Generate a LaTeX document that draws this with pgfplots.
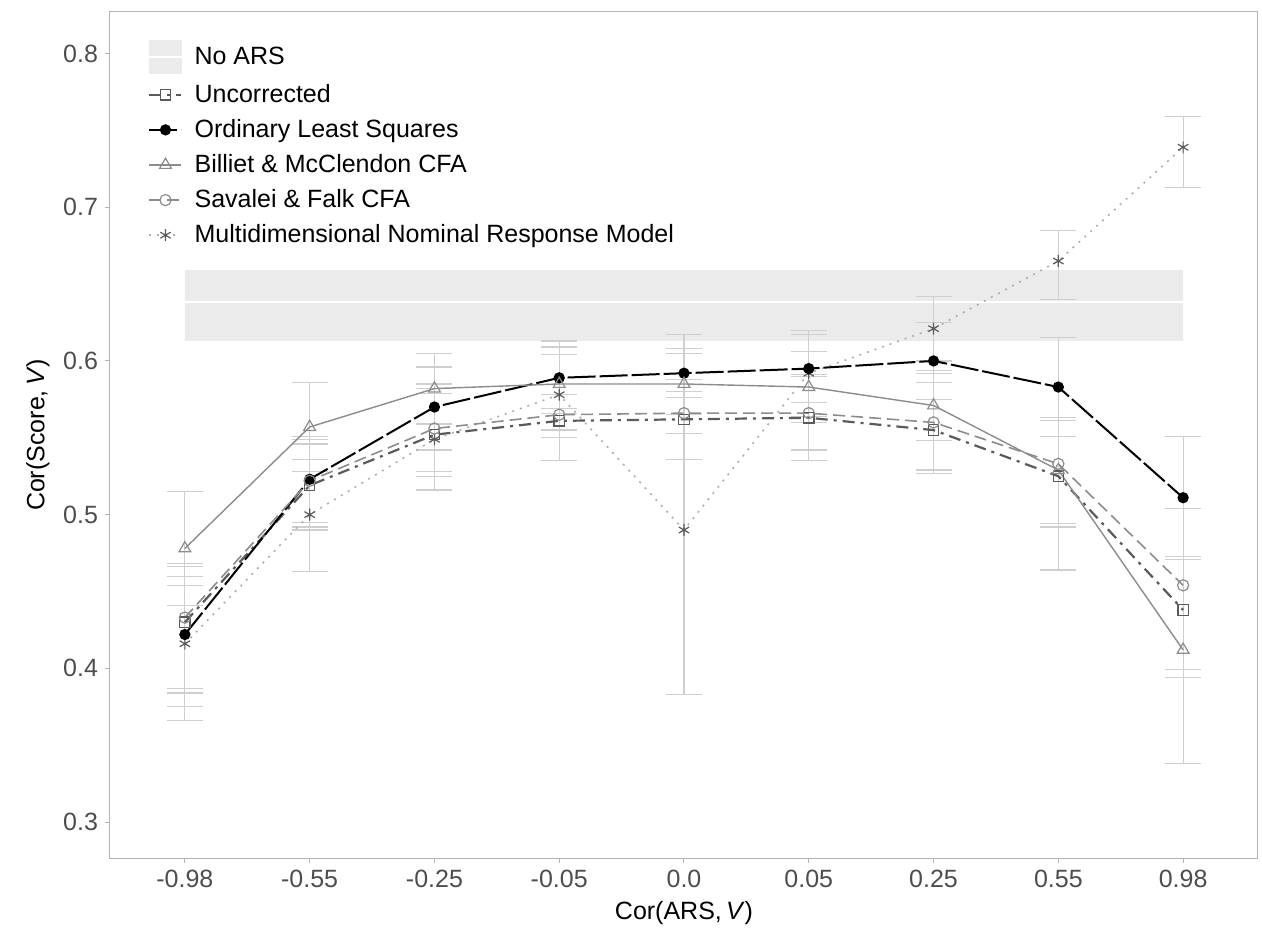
\documentclass[border=0pt]{standalone}
\usepackage{fontspec}
\setmainfont{Liberation Sans}
\usepackage{pgfplots}
\pgfplotsset{compat=1.18}
\usepackage{pgfplotstable}

\definecolor{bandgrey}{HTML}{EBEBEB}
\definecolor{errgrey}{HTML}{CFCFCF}
\definecolor{ticktext}{HTML}{4D4D4D}
\definecolor{framegrey}{HTML}{B3B3B3}
\definecolor{uncol}{HTML}{5A5A5A}
\definecolor{midgrey}{HTML}{8C8C8C}
\definecolor{lightline}{HTML}{B0B0B0}

% x = category index, y = mean, ep/em = distance to upper/lower whisker
\pgfplotstableread{
x y ep em
0 0.430 0.024 0.043
1 0.519 0.027 0.027
2 0.552 0.027 0.027
3 0.561 0.017 0.011
4 0.562 0.026 0.026
5 0.563 0.028 0.028
6 0.555 0.031 0.028
7 0.525 0.026 0.031
8 0.438 0.035 0.044
}\uncorr

\pgfplotstableread{
x y ep em
0 0.422 0.038 0.038
1 0.523 0.028 0.028
2 0.570 0.026 0.028
3 0.589 0.020 0.020
4 0.592 0.016 0.016
5 0.595 0.022 0.022
6 0.600 0.025 0.025
7 0.583 0.032 0.032
8 0.511 0.040 0.040
}\ols

\pgfplotstableread{
x y ep em
0 0.478 0.037 0.037
1 0.557 0.029 0.029
2 0.582 0.023 0.023
3 0.585 0.019 0.019
4 0.585 0.020 0.020
5 0.583 0.023 0.023
6 0.571 0.023 0.023
7 0.529 0.034 0.065
8 0.412 0.061 0.074
}\billiet

\pgfplotstableread{
x y ep em
0 0.433 0.035 0.058
1 0.522 0.027 0.032
2 0.556 0.029 0.028
3 0.565 0.013 0.010
4 0.566 0.014 0.013
5 0.566 0.024 0.024
6 0.560 0.032 0.031
7 0.533 0.028 0.041
8 0.454 0.050 0.055
}\savalei

\pgfplotstableread{
x y ep em
0 0.416 0.050 0.050
1 0.500 0.036 0.037
2 0.549 0.033 0.033
3 0.578 0.035 0.043
4 0.490 0.127 0.107
5 0.592 0.028 0.028
6 0.621 0.021 0.021
7 0.665 0.020 0.025
8 0.739 0.020 0.026
}\mnrm

\pgfplotsset{
  errbars/.style={draw=none, mark=none, forget plot,
    error bars/.cd, y dir=both, y explicit,
    error bar style={errgrey, line width=0.6pt},
    error mark options={errgrey, rotate=90, mark size=9pt, line width=0.6pt}},
}

\begin{document}
\begin{tikzpicture}[font=\fontsize{12.5}{15}\selectfont]
\useasboundingbox (-55pt,-43pt) rectangle (576pt,429pt);
\begin{axis}[
  at={(0pt,0pt)}, anchor=south west,
  scale only axis, width=574pt, height=423pt,
  xmin=-0.6, xmax=8.6, ymin=0.2766, ymax=0.827,
  xtick={0,1,2,3,4,5,6,7,8},
  xticklabels={-0.98,-0.55,-0.25,-0.05,0.0,0.05,0.25,0.55,0.98},
  ytick={0.3,0.4,0.5,0.6,0.7,0.8},
  yticklabels={0.3,0.4,0.5,0.6,0.7,0.8},
  tick align=outside, tick pos=left,
  major tick length=2.5pt,
  tick style={framegrey, line width=0.5pt},
  axis line style={framegrey, line width=0.5pt},
  ticklabel style={ticktext},
  xlabel={Cor(ARS,\,\textit{V})},
  ylabel={Cor(Score,\,\textit{V})},
  legend style={at={(axis description cs:0,1)}, anchor=north west,
    xshift=16pt, yshift=-12pt, draw=none, fill=none,
    row sep=3pt, cells={anchor=west},
    /tikz/every odd column/.append style={column sep=4pt}},
  legend cell align=left,
  legend image code/.code={%
    \draw[mark repeat=2, mark phase=2, #1]
      plot coordinates {(0pt,0pt) (8pt,0pt) (16pt,0pt)};},
]
\addplot[fill=bandgrey, draw=none, forget plot]
  coordinates {(0,0.613) (8,0.613) (8,0.659) (0,0.659) (0,0.613)};
\addplot[white, line width=1.2pt, forget plot]
  coordinates {(0,0.6385) (8,0.6385)};

\addplot[errbars] table[x=x, y=y, y error plus=ep, y error minus=em] {\uncorr};
\addplot[errbars] table[x=x, y=y, y error plus=ep, y error minus=em] {\ols};
\addplot[errbars] table[x=x, y=y, y error plus=ep, y error minus=em] {\billiet};
\addplot[errbars] table[x=x, y=y, y error plus=ep, y error minus=em] {\savalei};
\addplot[errbars] table[x=x, y=y, y error plus=ep, y error minus=em] {\mnrm};

\addlegendimage{legend image code/.code={%
  \fill[bandgrey] (0pt,-8.5pt) rectangle (16pt,-0.7pt);
  \fill[bandgrey] (0pt,0.7pt) rectangle (16pt,8pt);}}
\addlegendentry{No ARS}

\addplot[lightline, line width=0.8pt, dash pattern=on 1pt off 3pt,
  mark=asterisk, mark size=3pt, mark options={solid, draw=uncol, line width=0.6pt}, forget plot]
  table[x=x, y=y] {\mnrm};

\addplot[uncol, line width=1.1pt, dash pattern=on 6pt off 3pt on 1.5pt off 3pt,
  mark=square, mark size=2.6pt, mark options={solid, draw=uncol, line width=0.6pt}]
  table[x=x, y=y] {\uncorr};
\addlegendentry{Uncorrected}

\addplot[black, line width=1pt, dash pattern=on 14pt off 2pt,
  mark=*, mark size=2.3pt, mark options={solid}]
  table[x=x, y=y] {\ols};
\addlegendentry{Ordinary Least Squares}

\addplot[midgrey, line width=0.7pt,
  mark=triangle, mark size=3.4pt, mark options={solid, line width=0.6pt}]
  table[x=x, y=y] {\billiet};
\addlegendentry{Billiet \& McClendon CFA}

\addplot[midgrey, line width=0.8pt, dash pattern=on 6pt off 3pt,
  mark=o, mark size=2.8pt, mark options={solid, line width=0.6pt}]
  table[x=x, y=y] {\savalei};
\addlegendentry{Savalei \& Falk CFA}

\addlegendimage{lightline, line width=0.8pt, dash pattern=on 1pt off 3pt,
  mark=asterisk, mark size=3pt, mark options={solid, draw=uncol, line width=0.6pt}}
\addlegendentry{Multidimensional Nominal Response Model}
\end{axis}
\end{tikzpicture}
\end{document}
